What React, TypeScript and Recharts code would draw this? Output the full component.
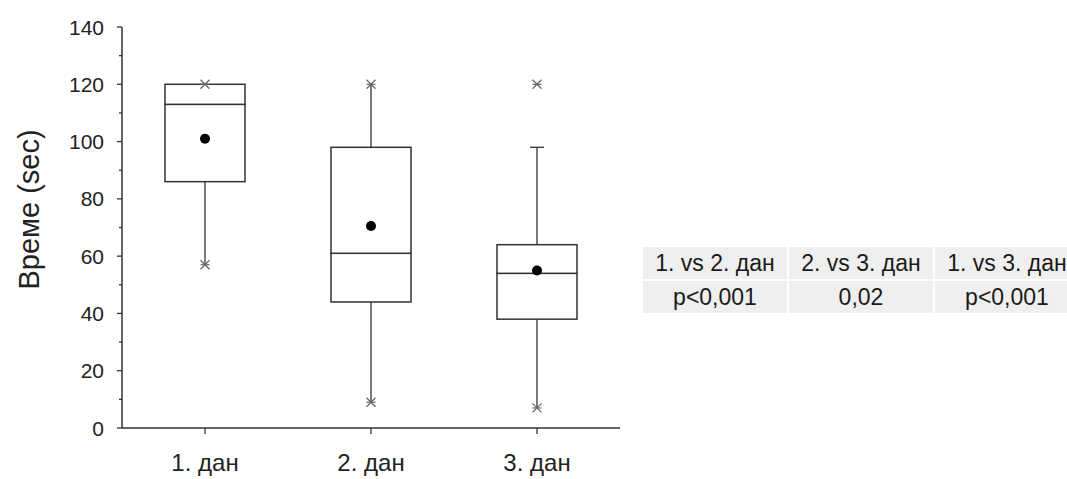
import React from 'react'
import {
  ComposedChart,
  Bar,
  Scatter,
  XAxis,
  YAxis
} from 'recharts'

// five-number summary per day
const days = ['1. дан', '2. дан', '3. дан']
const mins = [57, 9, 7]
const q1 = [86, 44, 38]
const medians = [113, 61, 54]
const q3 = [120, 98, 64]
const whiskerHigh = [120, 120, 98]
const maxs = [120, 120, 120]
const means = [101, 70.5, 55]

const yTicks = [0, 10, 20, 30, 40, 50, 60, 70, 80, 90, 100, 110, 120, 130, 140]

const compareHeads = ['1. vs 2. дан', '2. vs 3. дан', '1. vs 3. дан']
const compareP = ['p<0,001', '0,02', 'p<0,001']

const data = days.map((day, i) => ({
  day,
  base: mins[i],
  lowWhisker: q1[i] - mins[i],
  lowBox: medians[i] - q1[i],
  highBox: q3[i] - medians[i],
  highWhisker: whiskerHigh[i] - q3[i],
  capped: whiskerHigh[i] < maxs[i],
  min: mins[i],
  max: maxs[i],
  mean: means[i]
}))

const FONT = '"Liberation Sans", Arial, sans-serif'
const INK = '#333'

const Whisker = (props: any) => {
  const { x, y, width, height, payload, top } = props
  const cx = x + width / 2
  const cap = top && payload.capped
  return (
    <g>
      {height > 0 && <line x1={cx} x2={cx} y1={y} y2={y + height} stroke={INK} strokeWidth={1.3} />}
      {cap && <line x1={cx - 7} x2={cx + 7} y1={y} y2={y} stroke={INK} strokeWidth={1.3} />}
    </g>
  )
}

const BoxPart = (props: any) => {
  const { x, y, width, height } = props
  return <rect x={x} y={y} width={width} height={Math.max(height, 0)} fill="#fff" stroke={INK} strokeWidth={1.5} />
}

const Star = (props: any) => {
  const { cx, cy } = props
  const s = 4.5
  return (
    <g stroke="#666" strokeWidth={1.2}>
      <line x1={cx - s} y1={cy - s} x2={cx + s} y2={cy + s} />
      <line x1={cx - s} y1={cy + s} x2={cx + s} y2={cy - s} />
      <line x1={cx - s} y1={cy} x2={cx + s} y2={cy} />
    </g>
  )
}

const Dot = (props: any) => <circle cx={props.cx} cy={props.cy} r={5} fill="#000" />

const YTick = (props: any) => {
  const { x, y, payload } = props
  const major = payload.value % 20 === 0
  return (
    <g>
      <line x1={x} x2={x - (major ? 5 : 3)} y1={y} y2={y} stroke={INK} strokeWidth={1.3} />
      {major && (
        <text x={x - 18} y={y} dy="0.36em" textAnchor="end" fontSize={21} fill="#222" fontFamily={FONT}>
          {payload.value}
        </text>
      )}
    </g>
  )
}

const YTitle = (props: any) => {
  const { viewBox } = props
  const cx = viewBox.x + 29
  const cy = viewBox.y + viewBox.height / 2 - 18
  return (
    <text x={cx} y={cy} transform={`rotate(-90 ${cx} ${cy})`} textAnchor="middle" dy="0.36em" fontSize={29} fill="#222" fontFamily={FONT}>
      Време (sec)
    </text>
  )
}

function PTable() {
  const cell = (text: string, i: number, row: number) => (
    <div
      key={`${row}-${i}`}
      style={{
        position: 'absolute',
        left: i * 146,
        top: row * 34,
        width: 144,
        height: 32,
        background: '#efefef',
        lineHeight: '32px',
        textAlign: 'center',
        fontSize: 23,
        color: '#1a1a1a',
        whiteSpace: 'nowrap'
      }}
    >
      {text}
    </div>
  )
  return (
    <div style={{ position: 'absolute', left: 643, top: 247, fontFamily: FONT }}>
      {compareHeads.map((h, i) => cell(h, i, 0))}
      {compareP.map((p, i) => cell(p, i, 1))}
    </div>
  )
}

export default function App() {
  return (
    <div style={{ position: 'absolute', left: 0, top: 0, width: 1067, height: 479, overflow: 'hidden', background: '#fff' }}>
      <ComposedChart
        width={640}
        height={479}
        data={data}
        margin={{ top: 27, right: 20, bottom: 0, left: 0 }}
      >
        <XAxis
          dataKey="day"
          axisLine={{ stroke: INK, strokeWidth: 1.5 }}
          tickLine={{ stroke: INK, strokeWidth: 1.3 }}
          tickSize={6}
          tickMargin={20}
          tick={{ fontSize: 24, fill: '#222', fontFamily: FONT }}
          height={51}
        />
        <YAxis
          type="number"
          domain={[0, 140]}
          ticks={yTicks}
          interval={0}
          width={122}
          axisLine={{ stroke: INK, strokeWidth: 1.5 }}
          tickLine={false}
          tickSize={0}
          tickMargin={0}
          tick={<YTick />}
          label={<YTitle />}
        />
        <Bar dataKey="base" stackId="box" fill="none" isAnimationActive={false} barSize={80} />
        <Bar dataKey="lowWhisker" stackId="box" isAnimationActive={false} shape={<Whisker />} barSize={80} />
        <Bar dataKey="lowBox" stackId="box" isAnimationActive={false} shape={<BoxPart />} barSize={80} />
        <Bar dataKey="highBox" stackId="box" isAnimationActive={false} shape={<BoxPart />} barSize={80} />
        <Bar dataKey="highWhisker" stackId="box" isAnimationActive={false} shape={<Whisker top />} barSize={80} />
        <Scatter dataKey="max" isAnimationActive={false} shape={<Star />} />
        <Scatter dataKey="min" isAnimationActive={false} shape={<Star />} />
        <Scatter dataKey="mean" isAnimationActive={false} shape={<Dot />} />
      </ComposedChart>
      <PTable />
    </div>
  )
}
